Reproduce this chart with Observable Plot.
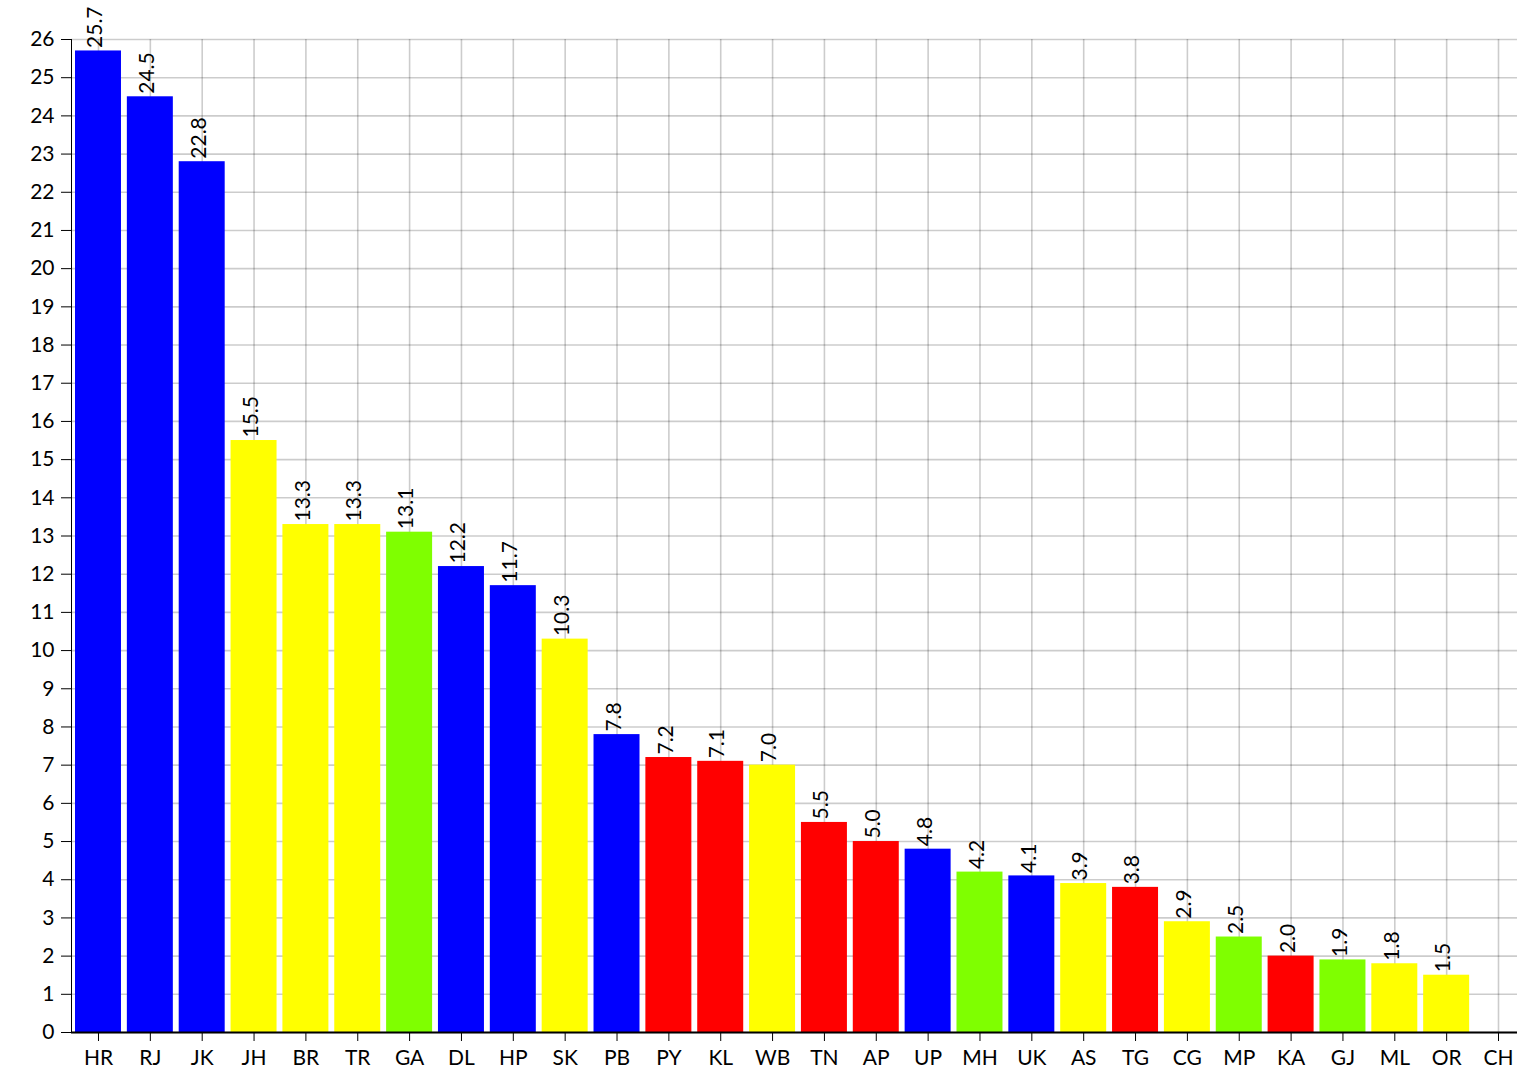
<!DOCTYPE html>
<html>
<head>
<meta charset="utf-8">
<script src="https://cdn.jsdelivr.net/npm/d3@7"></script>
<script src="https://cdn.jsdelivr.net/npm/@observablehq/plot@0.6"></script>
<style>
  html, body { margin: 0; padding: 0; background: #fff; overflow: hidden; }
  #chart svg { display: block; }
</style>
</head>
<body>
<div id="chart"></div>
<script>
const states = ["HR","RJ","JK","JH","BR","TR","GA","DL","HP","SK","PB","PY","KL","WB","TN","AP","UP","MH","UK","AS","TG","CG","MP","KA","GJ","ML","OR","CH"];
const values = [25.7,24.5,22.8,15.5,13.3,13.3,13.1,12.2,11.7,10.3,7.8,7.2,7.1,7.0,5.5,5.0,4.8,4.2,4.1,3.9,3.8,2.9,2.5,2.0,1.9,1.8,1.5,0];
const colors = ["#0000ff","#0000ff","#0000ff","#ffff00","#ffff00","#ffff00","#7fff00","#0000ff","#0000ff","#ffff00","#0000ff","#ff0000","#ff0000","#ffff00","#ff0000","#ff0000","#0000ff","#7fff00","#0000ff","#ffff00","#ff0000","#ffff00","#7fff00","#ff0000","#7fff00","#ffff00","#ffff00","#ffffff"];
const yTicks = d3.range(0, 27);

const data = states.map((s, i) => ({state: s, value: values[i], color: colors[i]}));
const labeled = data.filter(d => d.value > 0);

const chart = Plot.plot({
  width: 1517,
  height: 1074,
  marginLeft: 71,
  marginRight: 0,
  marginTop: 39,
  marginBottom: 42,
  style: {fontFamily: "Lato, sans-serif", fontSize: "21px", color: "#000", background: "#fff", overflow: "hidden"},
  x: {domain: states, range: [71, 1525], round: false, paddingInner: 0.113, paddingOuter: 0.077, label: null, tickSize: 9, tickPadding: 9},
  y: {domain: [0, 26], ticks: yTicks, tickSize: 10, tickPadding: 7, label: null, line: true},
  marks: [
    Plot.ruleY(yTicks, {stroke: "#000", strokeOpacity: 0.2, strokeWidth: 1.6}),
    Plot.ruleX(states, {stroke: "#000", strokeOpacity: 0.2, strokeWidth: 1.6}),
    Plot.barY(data, {x: "state", y: "value", fill: "color"}),
    Plot.ruleY([0], {stroke: "#000", strokeWidth: 2}),
    Plot.text(labeled, {
      x: "state", y: "value", text: d => d.value.toFixed(1),
      rotate: -90, textAnchor: "start", lineAnchor: "middle",
      dy: -3, dx: -3, fontSize: 21, fill: "#000"
    })
  ]
});
document.getElementById("chart").appendChild(chart);
</script>
</body>
</html>
